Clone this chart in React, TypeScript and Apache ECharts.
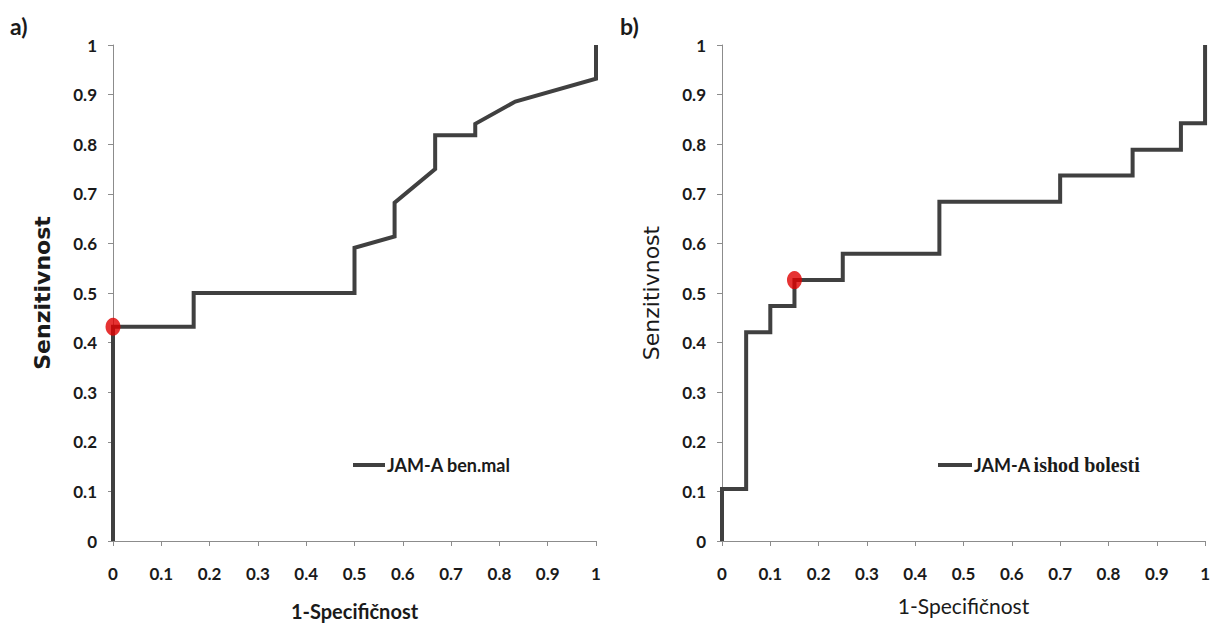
import React, { useEffect, useRef } from 'react';
import * as echarts from 'echarts';

// Panel a) ROC curve: JAM-A ben.mal
const rocAX = [0, 0, 0.167, 0.167, 0.5, 0.5, 0.583, 0.583, 0.667, 0.667, 0.75, 0.75, 0.833, 1, 1];
const rocAY = [0, 0.432, 0.432, 0.5, 0.5, 0.591, 0.614, 0.682, 0.75, 0.818, 0.818, 0.841, 0.886, 0.932, 1];
const cutA = [0, 0.432];

// Panel b) ROC curve: JAM-A ishod bolesti
const rocBX = [0, 0, 0.05, 0.05, 0.1, 0.1, 0.15, 0.15, 0.25, 0.25, 0.45, 0.45, 0.7, 0.7, 0.85, 0.85, 0.95, 0.95, 1, 1];
const rocBY = [0, 0.105, 0.105, 0.421, 0.421, 0.474, 0.474, 0.526, 0.526, 0.579, 0.579, 0.684, 0.684, 0.737, 0.737, 0.789, 0.789, 0.842, 0.842, 1];
const cutB = [0.15, 0.526];

const nameA = 'JAM-A ben.mal';
const nameB = 'JAM-A ishod bolesti';
const xAxisName = '1-Specifičnost';
const yAxisName = 'Senzitivnost';

const LINE = '#404040';
const AXIS = '#8c8c8c';
const TXT = '#1a1a1a';

function zip(xs: number[], ys: number[]) {
  return xs.map((x, i) => [x, ys[i]]);
}

export default function App() {
  const ref = useRef<HTMLDivElement>(null);
  useEffect(() => {
    if (!ref.current) return;
    const chart = echarts.init(ref.current, null, { renderer: 'svg' });
    const tickLabel = { fontFamily: 'Lato', fontWeight: 'bold' as const, fontSize: 17, color: TXT };
    const mkX = (gi: number, bold: boolean, gap: number, fs: number) => ({
      type: 'value', gridIndex: gi, min: 0, max: 1, interval: 0.1,
      axisLine: { lineStyle: { color: AXIS, width: 1 } },
      axisTick: { show: true, length: 5, lineStyle: { color: AXIS } },
      splitLine: { show: false },
      axisLabel: { ...tickLabel, margin: 24 },
      name: xAxisName, nameLocation: 'middle', nameGap: gap,
      nameTextStyle: { fontFamily: 'Lato', fontWeight: bold ? 'bold' : 'normal', fontSize: fs, color: TXT },
    });
    const mkY = (gi: number, bold: boolean, gap: number, fs: number) => ({
      type: 'value', gridIndex: gi, min: 0, max: 1, interval: 0.1,
      axisLine: { show: true, lineStyle: { color: AXIS, width: 1 } },
      axisTick: { show: true, length: 5, lineStyle: { color: AXIS } },
      splitLine: { show: false },
      axisLabel: { ...tickLabel, margin: 16 },
      name: yAxisName, nameLocation: 'middle', nameGap: gap, nameRotate: 90,
      nameTextStyle: { fontFamily: 'DejaVu Sans', fontWeight: bold ? 'bold' : 'normal', fontSize: fs, color: TXT },
    });
    chart.setOption({
      animation: false,
      backgroundColor: '#ffffff',
      grid: [
        { left: 113, top: 45, width: 483, height: 496 },
        { left: 722, top: 45, width: 485, height: 496 },
      ],
      xAxis: [mkX(0, true, 60, 20), mkX(1, false, 54, 21)],
      yAxis: [mkY(0, true, 60, 22), mkY(1, false, 60, 22)],
      legend: [
        {
          data: [nameA], left: 353, top: 456, padding: 0, icon: 'rect', itemWidth: 32, itemHeight: 4,
          textStyle: { fontFamily: 'Lato', fontWeight: 'bold', fontSize: 18, color: TXT, padding: [0, 0, 0, -3] },
        },
        {
          data: [nameB], left: 938, top: 455, padding: 0, icon: 'rect', itemWidth: 34, itemHeight: 4,
          formatter: (n: string) => '{a|JAM-A} {b|ishod bolesti}',
          textStyle: {
            padding: [0, 0, 0, -3],
            rich: {
              a: { fontFamily: 'Lato', fontWeight: 'bold', fontSize: 18, color: TXT },
              b: { fontFamily: 'Liberation Serif', fontWeight: 'bold', fontSize: 20, color: TXT },
            },
          },
        },
      ],
      graphic: [
        { type: 'text', left: 10, top: 14, style: { text: 'a)', fontFamily: 'Lato', fontWeight: 'bold', fontSize: 23, fill: TXT } },
        { type: 'text', left: 620, top: 14, style: { text: 'b)', fontFamily: 'Lato', fontWeight: 'bold', fontSize: 23, fill: TXT } },
      ],
      series: [
        {
          name: nameA, type: 'line', xAxisIndex: 0, yAxisIndex: 0, data: zip(rocAX, rocAY),
          showSymbol: false, symbol: 'none', color: LINE,
          lineStyle: { color: LINE, width: 4, join: 'miter', cap: 'butt' },
        },
        {
          name: 'cutA', type: 'scatter', xAxisIndex: 0, yAxisIndex: 0, data: [cutA],
          symbol: 'circle', symbolSize: [15, 18], itemStyle: { color: '#e00000' }, z: 5,
        },
        {
          name: nameB, type: 'line', xAxisIndex: 1, yAxisIndex: 1, data: zip(rocBX, rocBY),
          showSymbol: false, symbol: 'none', color: LINE,
          lineStyle: { color: LINE, width: 4, join: 'miter', cap: 'butt' },
        },
        {
          name: 'cutB', type: 'scatter', xAxisIndex: 1, yAxisIndex: 1, data: [cutB],
          symbol: 'circle', symbolSize: [15, 18], itemStyle: { color: '#e00000' }, z: 5,
        },
      ],
    });
    return () => chart.dispose();
  }, []);
  return (
    <div
      ref={ref}
      style={{ position: 'fixed', left: 0, top: 0, width: 1213, height: 630, background: '#fff' }}
    />
  );
}
